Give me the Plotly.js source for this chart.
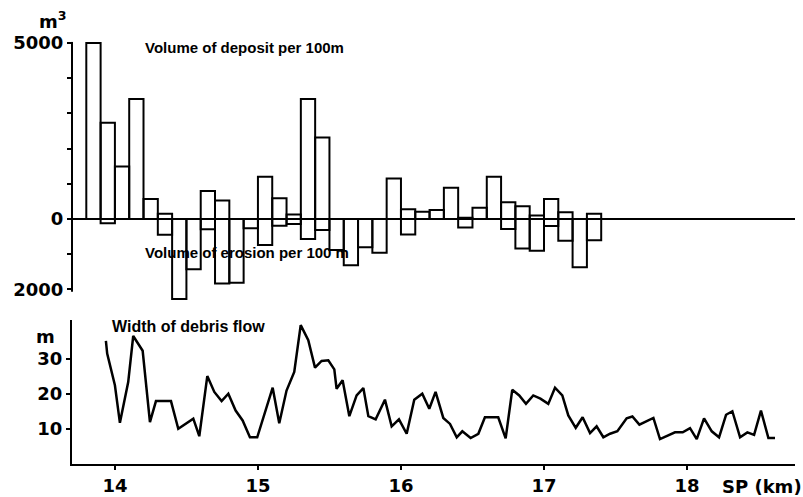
<!DOCTYPE html>
<html>
<head>
<meta charset="utf-8">
<script src="https://cdn.plot.ly/plotly-3.0.1.min.js"></script>
<style>html,body{margin:0;padding:0;background:#fff;}#chart{width:803px;height:497px;}</style>
</head>
<body>
<div id="chart"></div>
<script>
// Bin centres (SP, km), 100 m bins
const binCenters = [13.85,13.95,14.05,14.15,14.25,14.35,14.45,14.55,14.65,14.75,14.85,14.95,
  15.05,15.15,15.25,15.35,15.45,15.55,15.65,15.75,15.85,15.95,16.05,16.15,16.25,16.35,16.45,
  16.55,16.65,16.75,16.85,16.95,17.05,17.15,17.25,17.35];
// Volume of deposit per 100 m (m3)
const depositVol = [5000,2740,1490,3410,570,150,null,null,800,530,null,null,
  1200,590,130,3410,2320,null,null,null,null,1150,280,210,260,890,40,
  320,1200,480,360,100,570,190,null,150];
// Volume of erosion per 100 m (m3, negative downwards)
const erosionVol = [null,-120,null,null,null,-450,-2270,-1430,-290,-1830,-1810,-260,
  -740,-190,-140,-570,-310,-880,-1310,-800,-960,null,-440,null,null,null,-240,
  null,null,-280,-840,-900,-200,-620,-1370,-600];
// Width of debris flow (m)
const widthSP = [13.937,13.946,14.0,14.035,14.093,14.128,14.194,14.245,14.287,14.392,14.443,14.548,
  14.59,14.646,14.695,14.746,14.793,14.844,14.893,14.944,14.995,15.049,15.103,15.149,15.2,15.254,
  15.299,15.352,15.399,15.445,15.492,15.534,15.55,15.592,15.639,15.69,15.737,15.772,15.823,15.888,
  15.935,15.986,16.04,16.093,16.149,16.198,16.242,16.296,16.343,16.39,16.429,16.487,16.541,16.587,
  16.68,16.732,16.778,16.827,16.874,16.925,16.975,17.03,17.077,17.128,17.17,17.222,17.27,17.322,
  17.368,17.415,17.462,17.513,17.578,17.618,17.667,17.765,17.811,17.916,17.97,18.021,18.068,18.119,
  18.173,18.224,18.273,18.317,18.371,18.422,18.469,18.517,18.569,18.615];
const widthM = [35.0,31.4,22.4,11.7,23.3,36.4,32.2,11.9,17.9,17.9,10.0,12.9,
  7.9,25.0,20.5,17.9,20.0,15.2,12.4,7.6,7.6,14.6,21.7,11.6,20.9,26.2,
  39.5,35.2,27.4,29.3,29.5,26.9,21.4,23.8,13.6,19.5,21.6,13.6,12.7,18.3,
  10.7,12.7,8.6,18.3,20.0,15.7,20.5,13.1,11.4,7.6,9.3,7.4,8.6,13.3,
  13.3,7.3,21.1,19.5,17.1,19.5,18.6,17.1,21.7,19.5,13.8,10.3,13.3,8.8,
  10.7,7.6,8.6,9.3,13.0,13.5,11.2,13.1,7.1,9.0,9.0,10.2,7.1,13.0,
  9.3,7.6,14.0,15.0,7.6,9.0,8.3,15.2,7.4,7.4];
const xTicks = [14,15,16,17,18];
const topTickVals = [-2000,-1000,0,1000,2000,3000,4000,5000];
const topTickText = ['2000','','0','','','','','5000'];
const botTickVals = [10,20,30];
const topAxisSpan = [-2065, 5040];

const numFont = {family:'DejaVu Sans, Liberation Sans, Arial', size:18, color:'#000', weight:'bold'};
const txtFont = {family:'Liberation Sans Narrow, Liberation Sans, Arial', size:15, color:'#000', weight:'bold'};
const txtFont2 = {family:'Liberation Sans Narrow, Liberation Sans, Arial', size:16, color:'#000', weight:'bold'};

const traces = [
  {type:'bar', x:binCenters, y:depositVol, width:0.1, xaxis:'x', yaxis:'y',
   marker:{color:'rgba(255,255,255,0)', line:{color:'#000', width:2}}, hoverinfo:'skip', showlegend:false},
  {type:'bar', x:binCenters, y:erosionVol, width:0.1, xaxis:'x', yaxis:'y',
   marker:{color:'rgba(255,255,255,0)', line:{color:'#000', width:2}}, hoverinfo:'skip', showlegend:false},
  {type:'scatter', mode:'lines', x:widthSP, y:widthM, xaxis:'x', yaxis:'y2',
   line:{color:'#000', width:2.5}, hoverinfo:'skip', showlegend:false}
];

const layout = {
  width:803, height:497,
  margin:{l:72, r:8, t:40, b:33},
  paper_bgcolor:'#fff', plot_bgcolor:'#fff',
  barmode:'overlay',
  showlegend:false,
  xaxis:{anchor:'y2', range:[13.7,18.755], showgrid:false, zeroline:false,
    showline:true, linecolor:'#000', linewidth:2, ticks:'outside', ticklen:4, tickwidth:2, tickcolor:'#000',
    tickvals:xTicks, ticktext:xTicks.map(String), tickfont:numFont},
  yaxis:{domain:[0.3844,0.996], range:[-2330,5040], showgrid:false,
    zeroline:true, zerolinecolor:'#000', zerolinewidth:2,
    showline:false, ticks:'outside', ticklen:4, tickwidth:2, tickcolor:'#000',
    tickvals:topTickVals, ticktext:topTickText, tickfont:numFont},
  yaxis2:{domain:[0,0.34], range:[0,41], showgrid:false, zeroline:false,
    showline:true, linecolor:'#000', linewidth:2, ticks:'outside', ticklen:4, tickwidth:2, tickcolor:'#000',
    tickvals:botTickVals, ticktext:botTickVals.map(String), tickfont:numFont},
  shapes:[
    {type:'line', xref:'paper', yref:'y', x0:0, x1:0, y0:topAxisSpan[0], y1:topAxisSpan[1],
     line:{color:'#000', width:2}, layer:'above'}
  ],
  annotations:[
    {xref:'paper', yref:'paper', x:-0.026, y:1.047, text:'m<sup>3</sup>', showarrow:false, font:numFont, xanchor:'center', yanchor:'middle'},
    {xref:'paper', yref:'paper', x:-0.037, y:0.30, text:'m', showarrow:false, font:numFont, xanchor:'center', yanchor:'middle'},
    {xref:'x', yref:'y', x:14.196, y:4886, text:'Volume of deposit per 100m', showarrow:false, font:txtFont, xanchor:'left', yanchor:'middle'},
    {xref:'x', yref:'y', x:14.196, y:-940, text:'Volume of erosion per 100 m', showarrow:false, font:txtFont, xanchor:'left', yanchor:'middle'},
    {xref:'x', yref:'y2', x:13.965, y:39.2, text:'Width of debris flow', showarrow:false, font:txtFont2, xanchor:'left', yanchor:'middle'},
    {xref:'paper', yref:'paper', x:0.896, y:-0.052, text:'SP (km)', showarrow:false, font:numFont, xanchor:'left', yanchor:'middle'}
  ]
};

Plotly.newPlot('chart', traces, layout, {staticPlot:true, displayModeBar:false});
</script>
</body>
</html>
